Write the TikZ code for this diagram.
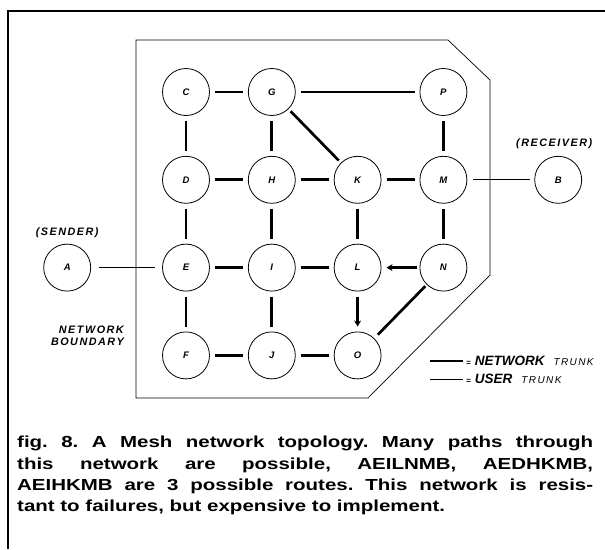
\documentclass[tikz,border=0pt]{standalone}
\usepackage{fontspec}
\setsansfont{Liberation Sans}
\newfontfamily\tagfont[LetterSpace=14]{Liberation Sans}
\newfontfamily\capfont[FakeStretch=1.28]{Liberation Sans}
\usetikzlibrary{arrows.meta,positioning}

\begin{document}
\begin{tikzpicture}[
  x=1pt,y=-1pt,
  node distance=40pt and 38pt,
  site/.style={circle,draw,line width=0.8pt,minimum size=47pt,inner sep=0pt,font=\sffamily\bfseries\itshape\fontsize{9.5}{11}\selectfont},
  tag/.style={inner sep=0pt,font=\tagfont\bfseries\itshape\fontsize{10.8}{12}\selectfont},
  key/.style={inner sep=0pt,font=\sffamily\bfseries\itshape\fontsize{13.5}{15}\selectfont},
  trunk/.style={line width=2.7pt},
  link/.style={trunk,shorten <=5pt,shorten >=5pt},
  flow/.style={link,-{Stealth[length=6pt,width=7pt]}},
  usertrunk/.style={line width=0.8pt},
  fence/.style={line width=0.7pt}
]
\useasboundingbox (0,0) rectangle (605,549);
\draw[line width=1.6pt] (8,549) -- (8,11) -- (605,11);
\draw[fence] (136,40) -- (448,40) -- (490,80) -- (490,275) -- (368,398) -- (136,398) -- cycle;

\node[site] (C) at (186,92) {C};
\node[site,right=of C] (G) {G};
\node[site,below=of C] (D) {D};
\node[site,right=of D] (H) {H};
\node[site,right=of H] (K) {K};
\node[site,right=of K] (M) {M};
\node[site,above=of M] (P) {P};
\node[site,below=of D] (E) {E};
\node[site,right=of E] (I) {I};
\node[site,right=of I] (L) {L};
\node[site,right=of L] (N) {N};
\node[site,below=of E] (F) {F};
\node[site,right=of F] (J) {J};
\node[site,right=of J] (O) {O};
\node[site,left=71pt of E] (A) {A};
\node[site,right=67pt of M] (B) {B};
\node[tag,above=6pt of A] (sender) {(SENDER)};
\node[tag,above=7pt of B,xshift=-4pt] (receiver) {(RECEIVER)};
\node[tag,anchor=east,align=right] (bound) at (124,336) {NETWORK\\BOUNDARY};

\draw[link] (C) -- (G);
\draw[link] (G) -- (P);
\draw[link,shorten <=3pt,shorten >=3pt] (G) -- (K);
\draw[link] (C) -- (D);
\draw[link] (G) -- (H);
\draw[link] (P) -- (M);
\draw[link] (D) -- (H);
\draw[link] (H) -- (K);
\draw[link] (K) -- (M);
\draw[link] (D) -- (E);
\draw[link] (H) -- (I);
\draw[link] (K) -- (L);
\draw[link] (M) -- (N);
\draw[link] (E) -- (I);
\draw[link] (I) -- (L);
\draw[flow,shorten <=3pt] (N) -- (L);
\draw[link] (E) -- (F);
\draw[link] (I) -- (J);
\draw[flow] (L) -- (O);
\draw[link,shorten >=2pt] (O) -- (N);
\draw[link] (F) -- (J);
\draw[link] (J) -- (O);
\draw[usertrunk,shorten <=8pt,shorten >=7pt] (A) -- (E);
\draw[usertrunk,shorten <=6pt,shorten >=4pt] (M) -- (B);

\coordinate (nk1) at (430,361);
\coordinate (nk2) at (463,361);
\coordinate (uk1) at (430,379);
\coordinate (uk2) at (463,379);
\draw[trunk] (nk1) -- (nk2);
\draw[usertrunk] (uk1) -- (uk2);
\node[key,right=3pt of nk2] (nklab) {{\fontsize{8}{9}\selectfont =}\hspace{4pt}NETWORK\hspace{9pt}{\tagfont\mdseries\fontsize{10}{11}\selectfont TRUNK}};
\node[key,right=3pt of uk2] (uklab) {{\fontsize{8}{9}\selectfont =}\hspace{4pt}USER\hspace{9pt}{\tagfont\mdseries\fontsize{10}{11}\selectfont TRUNK}};

\node[anchor=north west,inner sep=0pt,text width=576pt,align=justify,
  font=\capfont\bfseries\fontsize{16}{21.3}\selectfont] (caption) at (17,436)
  {\frenchspacing\tolerance=10000 \hyphenpenalty=10000 fig. 8. A Mesh network topology. Many paths through\linebreak this network are possible, AEILNMB, AEDHKMB,\linebreak AEIHKMB are 3 possible routes. This network is resis-\linebreak tant to failures, but expensive to implement.};
\end{tikzpicture}
\end{document}
